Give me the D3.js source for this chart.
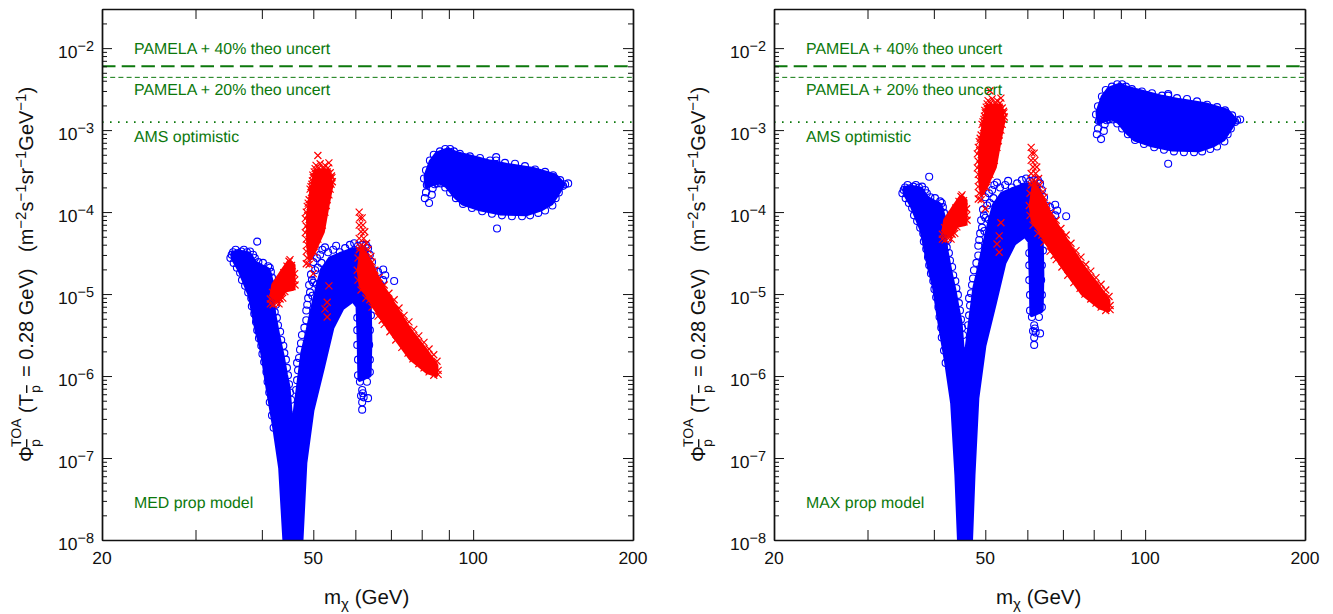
<!DOCTYPE html>
<html>
<head>
<meta charset="utf-8">
<script src="https://cdn.jsdelivr.net/npm/d3@7"></script>
<style>
  html, body { margin: 0; background: #fff; }
  text { font-family: "Liberation Sans", Arial, sans-serif; text-rendering: geometricPrecision; }
</style>
</head>
<body>
<svg id="chart" width="1333" height="614"></svg>
<script>
// every point below is [mass in GeV, log10 of the flux]

const massTicks = [30, 40, 50, 60, 70, 80, 90, 100];
const massLabels = [20, 50, 100, 200];
const fluxExponents = [-2, -3, -4, -5, -6, -7, -8];
const limitFlux = [6.0e-3, 4.4e-3, 1.25e-3];
const limitNames = ["PAMELA + 40% theo uncert", "PAMELA + 20% theo uncert", "AMS optimistic"];

// ---- MED panel
// the overlapping markers merge into solid regions, these are their outlines
const blueCoreMed = [
  [[35.3,-4.50],[36.4,-4.49],[37.8,-4.51],[38.8,-4.62],[41.1,-4.71],[41.6,-4.83],[42.1,-5.24],[42.9,-5.52],[43.7,-5.76],[44.3,-5.98],[44.8,-6.13],[45.2,-6.44],[45.7,-6.70],[46.7,-6.22],[47.8,-5.71],[48.9,-5.44],[49.9,-5.17],[51.0,-4.91],[52.0,-4.71],[53.8,-4.57],[56.1,-4.52],[59.4,-4.46],[62.5,-4.46],[63.7,-4.61],[63.7,-5.07],[63.9,-5.56],[63.7,-5.99],[61.2,-6.04],[61.0,-5.56],[60.7,-5.15],[59.4,-5.07],[56.6,-5.17],[54.2,-5.41],[52.0,-5.90],[49.7,-6.42],[48.2,-7.06],[47.4,-8.0],[47.2,-8.37],[44.3,-8.37],[44.2,-8.0],[43.4,-7.12],[42.3,-6.63],[41.1,-6.15],[40.1,-5.70],[39.2,-5.45],[38.0,-5.01],[36.4,-4.71],[35.3,-4.56]],
  [[81.5,-3.56],[83.3,-3.39],[85.5,-3.29],[89.7,-3.24],[92.4,-3.28],[101.6,-3.35],[107.6,-3.39],[115.8,-3.43],[129.7,-3.48],[142.7,-3.56],[147.7,-3.66],[144.5,-3.76],[140.2,-3.89],[134.3,-3.96],[126.1,-4.02],[112.3,-4.01],[103,-3.96],[95.7,-3.89],[92.4,-3.80],[89.3,-3.68],[86.6,-3.63],[83.3,-3.66],[81.8,-3.68]]
];
const blueMed = [
  [35.3,-4.49],[35.7,-4.46],[35.1,-4.52],[36.1,-4.50],[36.6,-4.48],[37.0,-4.46],[37.5,-4.49],[38.0,-4.48],[37.8,-4.55],[38.5,-4.52],[38.8,-4.56],[39.4,-4.61],[40.2,-4.62],[41.1,-4.66],[40.6,-4.71],[41.4,-4.68],[41.1,-4.77],[41.6,-4.73],[41.8,-4.80],[41.9,-4.89],[42.1,-4.98],[41.9,-5.07],[42.5,-5.13],[42.3,-5.22],[42.7,-5.29],[42.9,-5.38],[43.3,-5.46],[43.5,-5.56],[43.9,-5.63],[44.1,-5.72],[44.4,-5.80],[44.6,-5.90],[44.8,-5.99],[45.0,-6.10],[45.2,-6.20],[45.4,-6.29],
  [34.9,-4.56],[35.4,-4.62],[35.9,-4.68],[36.4,-4.74],[36.7,-4.83],[37.2,-4.90],[37.7,-4.98],[38.2,-5.05],[38.3,-5.15],[38.7,-5.24],[39.0,-5.34],[39.2,-5.44],[39.5,-5.54],[39.9,-5.63],[40.1,-5.73],[40.4,-5.83],[40.8,-5.95],[41.0,-6.07],[41.3,-6.20],[41.4,-6.32],[41.8,-6.48],[42.1,-6.63],
  [46.4,-6.17],[46.6,-6.05],[46.8,-5.93],[46.6,-5.84],[47.0,-5.78],[47.2,-5.68],[47.4,-5.60],[47.6,-5.50],[48.1,-5.41],[48.5,-5.32],[48.5,-5.20],[48.7,-5.13],[48.9,-5.05],[49.3,-4.98],[49.1,-4.89],[49.7,-4.83],[49.5,-4.76],[50.4,-4.71],[50.0,-4.61],[50.8,-4.56],[51.5,-4.52],[52.0,-4.46],[52.6,-4.43],[53.3,-4.49],[54.5,-4.46],[55.2,-4.41],[56.1,-4.49],[57.4,-4.44],[58.6,-4.40],[59.7,-4.38],[60.7,-4.41],[61.8,-4.40],[62.8,-4.40],[63.4,-4.44],[63.9,-4.52],[64.5,-4.61],[65.0,-4.71],[66.2,-4.73],[67.7,-4.70],[68.3,-4.77],[67.7,-4.83],[66.8,-4.88],[71.0,-4.84],
  [50.0,-4.86],[51.0,-4.68],[51.8,-4.62],[49.8,-5.02],[50.8,-4.88],
  [63.9,-5.07],[64.2,-5.26],[63.9,-5.44],[63.7,-5.62],[63.9,-5.80],[63.9,-5.95],[63.1,-6.07],[61.2,-6.07],[60.7,-5.99],[60.7,-5.80],[60.5,-5.62],[60.5,-5.44],[60.5,-5.29],
  [61.8,-6.17],[62.0,-6.21],[61.5,-6.24],[62.2,-6.26],[61.8,-6.32],[63.4,-6.27],[61.8,-6.41],[39.2,-4.36],
  [81.1,-3.83],[82.6,-3.89],[81.5,-3.76],[81.8,-3.67],[80.8,-3.59],[83.3,-3.62],[85.5,-3.65],
  [81.5,-3.49],[82.9,-3.37],[84.3,-3.30],[86.6,-3.26],[88.6,-3.23],[90.5,-3.23],[92,-3.26],[94.4,-3.29],[98.6,-3.32],[103,-3.34],[107.6,-3.37],[110.5,-3.33],[110.5,-3.37],[114.8,-3.40],[119.9,-3.41],[125.2,-3.44],[130.8,-3.48],[136.6,-3.51],[141.4,-3.55],[145.8,-3.61],[149,-3.66],[151,-3.65],[147.7,-3.68],[145,-3.76],[143,-3.83],[141,-3.92],[136.6,-3.98],[132.6,-4.01],[128,-4.04],[123.6,-4.05],[118.3,-4.05],[113.3,-4.04],[108.5,-4.02],[104,-3.99],[99.5,-3.95],[95.7,-3.90],[92.8,-3.83],[90.5,-3.76],[88.6,-3.70],[87,-3.65],[84.6,-3.66],[83.9,-3.71],[83.6,-3.79],[110.9,-4.20]
];
const redCoreMed = [
  [[61.8,-4.46],[63.9,-4.61],[66.2,-4.83],[69.1,-5.02],[72.2,-5.22],[76.3,-5.46],[81.1,-5.68],[85.1,-5.87],[85.1,-5.98],[82.2,-5.95],[76.3,-5.78],[70.0,-5.45],[66.8,-5.26],[63.4,-5.02],[61.5,-4.89],[61.0,-4.71]],
  [[50.6,-3.50],[53.3,-3.50],[54.0,-3.67],[53.1,-3.91],[52.0,-4.24],[50.2,-4.46],[49.3,-4.56],[49.0,-4.40],[49.0,-4.04],[49.7,-3.73]],
  [[41.8,-5.02],[42.1,-4.89],[43.7,-4.73],[45.0,-4.61],[45.8,-4.65],[45.8,-4.93],[44.2,-4.95],[42.9,-5.07]]
];
const redMed = [
  [51.0,-3.31],[50.6,-3.43],[51.5,-3.41],[52.6,-3.43],[53.5,-3.40],[50.4,-3.47],[51.2,-3.46],[52.2,-3.47],[53.3,-3.46],
  [50.2,-3.51],[51.0,-3.52],[52.0,-3.50],[53.1,-3.51],[53.8,-3.52],[49.9,-3.55],[51.3,-3.56],[52.4,-3.55],[53.3,-3.55],[54.1,-3.56],
  [50.0,-3.58],[50.8,-3.59],[51.7,-3.58],[52.6,-3.59],[53.5,-3.60],[54.2,-3.58],[49.8,-3.62],[50.9,-3.63],[52.1,-3.62],[53.0,-3.63],[54.3,-3.63],
  [49.7,-3.66],[50.6,-3.66],[51.5,-3.67],[52.4,-3.66],[53.3,-3.67],[54.0,-3.66],[49.5,-3.69],[50.8,-3.70],[52.0,-3.69],[53.2,-3.70],
  [49.3,-3.72],[50.2,-3.73],[51.2,-3.72],[52.2,-3.73],[53.1,-3.74],[53.8,-3.72],[49.6,-3.76],[50.6,-3.77],[51.6,-3.76],[52.7,-3.77],
  [50.0,-3.79],[50.8,-3.80],[51.7,-3.79],[52.6,-3.80],[53.5,-3.79],[49.1,-3.85],[49.7,-3.86],[50.6,-3.85],[51.5,-3.84],[52.4,-3.86],[53.1,-3.85],
  [48.9,-3.89],[50.1,-3.90],[51.1,-3.89],[52.0,-3.90],[48.7,-3.93],[49.5,-3.94],[50.4,-3.92],[51.2,-3.93],[52.2,-3.94],[52.9,-3.92],
  [48.5,-4.00],[49.3,-4.01],[50.2,-4.00],[51.0,-3.99],[52.0,-4.01],[52.6,-4.00],[48.8,-4.04],[49.9,-4.05],[51.2,-4.04],[48.3,-4.08],[49.1,-4.09],[50.0,-4.07],[50.8,-4.08],[51.7,-4.09],
  [48.5,-4.17],[49.3,-4.16],[50.2,-4.18],[51.0,-4.17],[52.0,-4.16],[48.9,-4.21],[50.0,-4.21],[48.3,-4.25],[49.1,-4.26],[50.0,-4.25],[50.8,-4.24],
  [48.5,-4.33],[49.3,-4.32],[50.2,-4.34],[51.0,-4.33],[48.7,-4.40],[49.5,-4.41],[50.4,-4.39],[48.5,-4.48],[49.3,-4.47],[50.2,-4.49],[48.7,-4.56],[49.5,-4.55],[48.5,-4.63],[49.1,-4.64],[50.0,-4.75],
  [45.2,-4.58],[45.0,-4.60],[44.6,-4.66],[45.0,-4.67],[45.5,-4.65],[44.0,-4.74],[44.6,-4.73],[45.2,-4.75],[45.6,-4.73],[46.1,-4.75],[43.3,-4.82],[43.9,-4.81],[44.5,-4.83],[45.1,-4.82],[45.6,-4.81],[46.1,-4.83],
  [42.7,-4.90],[43.3,-4.89],[43.9,-4.91],[44.5,-4.90],[45.0,-4.89],[45.6,-4.91],[46.2,-4.89],[41.9,-4.98],[42.5,-4.97],[43.1,-4.99],[43.7,-4.98],[44.2,-4.97],[41.5,-5.06],[42.1,-5.05],[42.7,-5.07],[43.3,-5.06],[43.8,-5.05],[41.5,-5.12],[42.0,-5.13],[42.6,-5.11],[43.1,-5.12],
  [61.0,-4.00],[61.2,-4.07],[61.8,-4.07],[61.0,-4.16],[62.0,-4.16],[61.5,-4.24],[62.5,-4.24],[61.0,-4.32],[62.2,-4.32],[63.0,-4.38],[61.2,-4.42],[62.0,-4.42],[63.4,-4.46],[64.2,-4.54],
  [64.5,-4.61],[65.3,-4.71],[66.5,-4.80],[68.0,-4.89],[69.4,-4.99],[71,-5.07],[72.5,-5.17],[74.1,-5.26],[75.7,-5.34],[77.3,-5.43],[79,-5.51],[80.8,-5.59],[82.6,-5.67],[84.3,-5.74],[85.5,-5.82],
  [85.9,-5.93],[85.9,-5.98],[84.3,-5.99],[82.6,-5.95],[80.8,-5.90],[79,-5.85],[77,-5.79],[75.4,-5.72],[73.4,-5.65],[71.5,-5.56],[69.7,-5.46],[68,-5.37],[66.2,-5.27],[64.5,-5.16],[62.8,-5.05],[61.5,-4.95],[60.7,-4.83],[60.5,-4.71],[60.7,-4.56],[61,-4.46],[67.4,-5.32],[63.9,-5.07],
  [53.5,-4.90],[53.1,-5.10],[52.6,-5.18],[53.1,-5.28]
];

// ---- MAX panel
const blueCoreMax = [
  [[35.3,-3.71],[36.4,-3.70],[37.8,-3.72],[38.8,-3.83],[41.1,-3.92],[41.6,-4.04],[42.1,-4.45],[42.9,-4.73],[43.7,-4.97],[44.3,-5.19],[44.8,-5.34],[45.2,-5.65],[45.7,-5.91],[46.7,-5.43],[47.8,-4.92],[48.9,-4.65],[49.9,-4.38],[51.0,-4.12],[52.0,-3.92],[53.8,-3.78],[56.1,-3.73],[59.4,-3.67],[62.5,-3.67],[63.7,-3.82],[63.7,-4.28],[63.9,-4.77],[63.7,-5.20],[61.2,-5.25],[61.0,-4.77],[60.7,-4.36],[59.4,-4.28],[56.6,-4.38],[54.2,-4.62],[52.0,-5.11],[49.7,-5.63],[48.2,-6.27],[47.4,-7.21],[46.9,-8.0],[46.8,-8.37],[44.6,-8.37],[44.7,-8.0],[44.2,-7.21],[43.4,-6.33],[42.3,-5.84],[41.1,-5.36],[40.1,-4.91],[39.2,-4.66],[38.0,-4.22],[36.4,-3.92],[35.3,-3.77]],
  [[81.5,-2.78],[83.3,-2.60],[85.5,-2.50],[89.7,-2.45],[92.4,-2.49],[101.6,-2.56],[107.6,-2.60],[115.8,-2.64],[129.7,-2.69],[142.7,-2.77],[147.7,-2.88],[144.5,-2.98],[140.2,-3.11],[134.3,-3.18],[126.1,-3.24],[112.3,-3.23],[103,-3.18],[95.7,-3.11],[92.4,-3.02],[89.3,-2.90],[86.6,-2.85],[83.3,-2.88],[81.8,-2.90]]
];
const blueMax = [
  [35.3,-3.70],[35.7,-3.67],[35.1,-3.73],[36.1,-3.71],[36.6,-3.69],[37.0,-3.67],[37.5,-3.70],[38.0,-3.69],[37.8,-3.76],[38.5,-3.73],[38.8,-3.77],[39.4,-3.82],[40.2,-3.83],[41.1,-3.87],[40.6,-3.92],[41.4,-3.89],[41.1,-3.98],[41.6,-3.94],[41.8,-4.01],[41.9,-4.10],[42.1,-4.19],[41.9,-4.28],[42.5,-4.34],[42.3,-4.43],[42.7,-4.50],[42.9,-4.59],[43.3,-4.67],[43.5,-4.77],[43.9,-4.84],[44.1,-4.93],[44.4,-5.01],[44.6,-5.11],[44.8,-5.20],[45.0,-5.31],[45.2,-5.41],[45.4,-5.50],
  [34.9,-3.77],[35.4,-3.83],[35.9,-3.89],[36.4,-3.95],[36.7,-4.04],[37.2,-4.11],[37.7,-4.19],[38.2,-4.26],[38.3,-4.36],[38.7,-4.45],[39.0,-4.55],[39.2,-4.65],[39.5,-4.75],[39.9,-4.84],[40.1,-4.94],[40.4,-5.04],[40.8,-5.16],[41.0,-5.28],[41.3,-5.41],[41.4,-5.53],[41.8,-5.69],[42.1,-5.84],
  [46.4,-5.38],[46.6,-5.26],[46.8,-5.14],[46.6,-5.05],[47.0,-4.99],[47.2,-4.89],[47.4,-4.81],[47.6,-4.71],[48.1,-4.62],[48.5,-4.53],[48.5,-4.41],[48.7,-4.34],[48.9,-4.26],[49.3,-4.19],[49.1,-4.10],[49.7,-4.04],[49.5,-3.97],[50.4,-3.92],[50.0,-3.82],[50.8,-3.77],[51.5,-3.73],[52.0,-3.67],[52.6,-3.64],[53.3,-3.70],[54.5,-3.67],[55.2,-3.62],[56.1,-3.70],[57.4,-3.65],[58.6,-3.61],[59.7,-3.59],[60.7,-3.62],[61.8,-3.61],[62.8,-3.61],[63.4,-3.65],[63.9,-3.73],[64.5,-3.82],[65.0,-3.92],[66.2,-3.94],[67.7,-3.91],[68.3,-3.98],[67.7,-4.04],[66.8,-4.09],[71.0,-4.05],
  [50.0,-4.07],[51.0,-3.89],[51.8,-3.83],[49.8,-4.23],[50.8,-4.09],
  [63.9,-4.28],[64.2,-4.47],[63.9,-4.65],[63.7,-4.83],[63.9,-5.01],[63.9,-5.16],[63.1,-5.28],[61.2,-5.28],[60.7,-5.20],[60.7,-5.01],[60.5,-4.83],[60.5,-4.65],[60.5,-4.50],
  [61.8,-5.38],[62.0,-5.42],[61.5,-5.45],[62.2,-5.47],[61.8,-5.53],[63.4,-5.48],[61.8,-5.62],[39.2,-3.57],
  [81.1,-3.05],[82.6,-3.11],[81.5,-2.98],[81.8,-2.89],[80.8,-2.81],[83.3,-2.84],[85.5,-2.87],
  [81.5,-2.71],[82.9,-2.59],[84.3,-2.51],[86.6,-2.47],[88.6,-2.44],[90.5,-2.44],[92,-2.47],[94.4,-2.50],[98.6,-2.53],[103,-2.55],[107.6,-2.58],[110.5,-2.56],[110.5,-2.58],[114.8,-2.61],[119.9,-2.62],[125.2,-2.65],[130.8,-2.69],[136.6,-2.72],[141.4,-2.76],[145.8,-2.82],[149,-2.88],[151,-2.87],[147.7,-2.90],[145,-2.98],[143,-3.05],[141,-3.14],[136.6,-3.20],[132.6,-3.23],[128,-3.26],[123.6,-3.27],[118.3,-3.27],[113.3,-3.26],[108.5,-3.24],[104,-3.21],[99.5,-3.17],[95.7,-3.12],[92.8,-3.05],[90.5,-2.98],[88.6,-2.92],[87,-2.87],[84.6,-2.88],[83.9,-2.93],[83.6,-3.01],[110.5,-3.41]
];
const redCoreMax = [
  [[61.8,-3.67],[63.9,-3.82],[66.2,-4.04],[69.1,-4.23],[72.2,-4.43],[76.3,-4.67],[81.1,-4.89],[85.1,-5.08],[85.1,-5.19],[82.2,-5.16],[76.3,-4.99],[70.0,-4.66],[66.8,-4.47],[63.4,-4.23],[61.5,-4.10],[61.0,-3.92]],
  [[50.6,-2.71],[53.3,-2.71],[54.0,-2.88],[53.1,-3.12],[52.0,-3.45],[50.2,-3.67],[49.3,-3.77],[49.0,-3.61],[49.0,-3.25],[49.7,-2.94]],
  [[41.8,-4.23],[42.1,-4.10],[43.7,-3.94],[45.0,-3.82],[45.8,-3.86],[45.8,-4.14],[44.2,-4.16],[42.9,-4.28]]
];
const redMax = [
  [51.0,-2.52],[50.6,-2.64],[51.5,-2.62],[52.6,-2.64],[53.5,-2.61],[50.4,-2.68],[51.2,-2.67],[52.2,-2.68],[53.3,-2.67],
  [50.2,-2.72],[51.0,-2.73],[52.0,-2.71],[53.1,-2.72],[53.8,-2.73],[49.9,-2.76],[51.3,-2.77],[52.4,-2.76],[53.3,-2.76],[54.1,-2.77],
  [50.0,-2.79],[50.8,-2.80],[51.7,-2.79],[52.6,-2.80],[53.5,-2.81],[54.2,-2.79],[49.8,-2.83],[50.9,-2.84],[52.1,-2.83],[53.0,-2.84],[54.3,-2.84],
  [49.7,-2.87],[50.6,-2.87],[51.5,-2.88],[52.4,-2.87],[53.3,-2.88],[54.0,-2.87],[49.5,-2.90],[50.8,-2.91],[52.0,-2.90],[53.2,-2.91],
  [49.3,-2.93],[50.2,-2.94],[51.2,-2.93],[52.2,-2.94],[53.1,-2.95],[53.8,-2.93],[49.6,-2.97],[50.6,-2.98],[51.6,-2.97],[52.7,-2.98],
  [50.0,-3.00],[50.8,-3.01],[51.7,-3.00],[52.6,-3.01],[53.5,-3.00],[49.1,-3.06],[49.7,-3.07],[50.6,-3.06],[51.5,-3.05],[52.4,-3.07],[53.1,-3.06],
  [48.9,-3.10],[50.1,-3.11],[51.1,-3.10],[52.0,-3.11],[48.7,-3.14],[49.5,-3.15],[50.4,-3.13],[51.2,-3.14],[52.2,-3.15],[52.9,-3.13],
  [48.5,-3.21],[49.3,-3.22],[50.2,-3.21],[51.0,-3.20],[52.0,-3.22],[52.6,-3.21],[48.8,-3.25],[49.9,-3.26],[51.2,-3.25],[48.3,-3.29],[49.1,-3.30],[50.0,-3.28],[50.8,-3.29],[51.7,-3.30],
  [48.5,-3.38],[49.3,-3.37],[50.2,-3.39],[51.0,-3.38],[52.0,-3.37],[48.9,-3.42],[50.0,-3.42],[48.3,-3.46],[49.1,-3.47],[50.0,-3.46],[50.8,-3.45],
  [48.5,-3.54],[49.3,-3.53],[50.2,-3.55],[51.0,-3.54],[48.7,-3.61],[49.5,-3.62],[50.4,-3.60],[48.5,-3.69],[49.3,-3.68],[50.2,-3.70],[48.7,-3.77],[49.5,-3.76],[48.5,-3.84],[49.1,-3.85],[50.0,-3.96],
  [45.2,-3.79],[45.0,-3.81],[44.6,-3.87],[45.0,-3.88],[45.5,-3.86],[44.0,-3.95],[44.6,-3.94],[45.2,-3.96],[45.6,-3.94],[46.1,-3.96],[43.3,-4.03],[43.9,-4.02],[44.5,-4.04],[45.1,-4.03],[45.6,-4.02],[46.1,-4.04],
  [42.7,-4.11],[43.3,-4.10],[43.9,-4.12],[44.5,-4.11],[45.0,-4.10],[45.6,-4.12],[46.2,-4.10],[41.9,-4.19],[42.5,-4.18],[43.1,-4.20],[43.7,-4.19],[44.2,-4.18],[41.5,-4.27],[42.1,-4.26],[42.7,-4.28],[43.3,-4.27],[43.8,-4.26],[41.5,-4.33],[42.0,-4.34],[42.6,-4.32],[43.1,-4.33],
  [61.0,-3.21],[61.2,-3.28],[61.8,-3.28],[61.0,-3.37],[62.0,-3.37],[61.5,-3.45],[62.5,-3.45],[61.0,-3.53],[62.2,-3.53],[63.0,-3.59],[61.2,-3.63],[62.0,-3.63],[63.4,-3.67],[64.2,-3.75],
  [64.5,-3.82],[65.3,-3.92],[66.5,-4.01],[68.0,-4.10],[69.4,-4.20],[71,-4.28],[72.5,-4.38],[74.1,-4.47],[75.7,-4.55],[77.3,-4.64],[79,-4.72],[80.8,-4.80],[82.6,-4.88],[84.3,-4.95],[85.5,-5.03],
  [85.9,-5.14],[85.9,-5.19],[84.3,-5.20],[82.6,-5.16],[80.8,-5.11],[79,-5.06],[77,-5.00],[75.4,-4.93],[73.4,-4.86],[71.5,-4.77],[69.7,-4.67],[68,-4.58],[66.2,-4.48],[64.5,-4.37],[62.8,-4.26],[61.5,-4.16],[60.7,-4.04],[60.5,-3.92],[60.7,-3.77],[61,-3.67],[67.4,-4.53],[63.9,-4.28],
  [53.5,-4.13],[53.1,-4.29],[52.6,-4.39],[53.1,-4.49]
];

const plotTop = 9;
const plotBottom = 540;
const panelWidth = 531;
const green = "#0c780c";
const blue = "#0000ff";
const red = "#ff0000";

const svg = d3.select("#chart");

function drawPanel(left, name, blueCore, bluePoints, redCore, redPoints) {
  const right = left + panelWidth;
  const x = d3.scaleLog().domain([20, 200]).range([left, right]);
  const y = d3.scaleLog().domain([1e-8, 0.03]).range([plotBottom, plotTop]);
  const g = svg.append("g");

  const clipId = "clip" + left;
  g.append("clipPath").attr("id", clipId).append("rect")
    .attr("x", left).attr("y", plotTop)
    .attr("width", panelWidth).attr("height", plotBottom - plotTop);

  const outline = d3.line()
    .x((d) => x(d[0]))
    .y((d) => y(Math.pow(10, d[1])))
    .curve(d3.curveLinearClosed);

  const marks = g.append("g").attr("clip-path", `url(#${clipId})`);

  // limit lines
  const dashes = ["13.5 6.2", "5 3.2", "1.6 6.4"];
  const lineWidths = [2.1, 1, 1.6];
  limitFlux.forEach((flux, i) => {
    marks.append("line")
      .attr("x1", left).attr("x2", right)
      .attr("y1", y(flux)).attr("y2", y(flux))
      .attr("stroke", green)
      .attr("stroke-width", lineWidths[i])
      .attr("stroke-dasharray", dashes[i]);
  });

  marks.selectAll("path.blue-core").data(blueCore).enter()
    .append("path").attr("class", "blue-core")
    .attr("d", outline).attr("fill", blue)
    .attr("stroke", blue).attr("stroke-width", 5).attr("stroke-linejoin", "round");

  marks.selectAll("circle").data(bluePoints).enter()
    .append("circle")
    .attr("cx", (d) => x(d[0]))
    .attr("cy", (d) => y(Math.pow(10, d[1])))
    .attr("r", 3.5)
    .attr("fill", "none")
    .attr("stroke", blue)
    .attr("stroke-width", 1.1);

  marks.selectAll("path.red-core").data(redCore).enter()
    .append("path").attr("class", "red-core")
    .attr("d", outline).attr("fill", red)
    .attr("stroke", red).attr("stroke-width", 5).attr("stroke-linejoin", "round");

  marks.selectAll("path.cross").data(redPoints).enter()
    .append("path").attr("class", "cross")
    .attr("d", (d) => {
      const cx = x(d[0]);
      const cy = y(Math.pow(10, d[1]));
      return `M${cx - 3.5},${cy - 3.5}L${cx + 3.5},${cy + 3.5}M${cx - 3.5},${cy + 3.5}L${cx + 3.5},${cy - 3.5}`;
    })
    .attr("fill", "none")
    .attr("stroke", red)
    .attr("stroke-width", 1.2);

  // axes, ticks point inwards on all four sides
  const yMajor = fluxExponents.map((e) => Math.pow(10, e));
  const yMinor = [2e-2, 3e-2];
  fluxExponents.slice(1).forEach((e) => {
    d3.range(2, 10).forEach((k) => yMinor.push(k * Math.pow(10, e)));
  });

  const axes = [
    g.append("g").attr("transform", `translate(0,${plotBottom})`).call(d3.axisBottom(x).tickValues(massTicks).tickFormat("").tickSizeInner(-10).tickSizeOuter(0)),
    g.append("g").attr("transform", `translate(0,${plotTop})`).call(d3.axisTop(x).tickValues(massTicks).tickFormat("").tickSizeInner(-10).tickSizeOuter(0)),
    g.append("g").attr("transform", `translate(${left},0)`).call(d3.axisLeft(y).tickValues(yMajor).tickFormat("").tickSizeInner(-10).tickSizeOuter(0)),
    g.append("g").attr("transform", `translate(${left},0)`).call(d3.axisLeft(y).tickValues(yMinor).tickFormat("").tickSizeInner(-5).tickSizeOuter(0)),
    g.append("g").attr("transform", `translate(${right},0)`).call(d3.axisRight(y).tickValues(yMajor).tickFormat("").tickSizeInner(-10).tickSizeOuter(0)),
    g.append("g").attr("transform", `translate(${right},0)`).call(d3.axisRight(y).tickValues(yMinor).tickFormat("").tickSizeInner(-5).tickSizeOuter(0))
  ];
  axes.forEach((a) => {
    a.select(".domain").attr("stroke-width", 1.4).attr("stroke", "#111");
    a.selectAll(".tick line").attr("stroke-width", 1).attr("stroke", "#111");
  });

  // tick labels
  g.selectAll("text.mass").data(massLabels).enter()
    .append("text").attr("class", "mass")
    .attr("x", (d) => x(d)).attr("y", 564)
    .attr("text-anchor", "middle")
    .attr("font-size", 17.5).attr("fill", "#111")
    .text((d) => d);

  fluxExponents.forEach((e) => {
    const t = g.append("text")
      .attr("x", left - 44)
      .attr("y", y(Math.pow(10, e)) + 9.5)
      .attr("font-size", 17.5).attr("fill", "#111");
    t.append("tspan").text("10");
    t.append("tspan").attr("font-size", 14.5).attr("dy", -7).text("\u2212" + Math.abs(e));
  });

  // y title is put together piece by piece, all rotated
  const base = left - 69;
  const piece = (py, dx, size, str, overline) => {
    const t = g.append("text")
      .attr("transform", `translate(${base + dx},${py}) rotate(-90)`)
      .attr("font-size", size).attr("fill", "#111").text(str);
    if (overline) t.style("text-decoration", "overline");
    return t;
  };
  piece(462, 0, 20, "\u03a6");
  piece(447, -12, 14, "TOA");
  piece(447, 7, 14, "p", true);
  piece(413, 0, 20, "(T");
  piece(393, 7, 14, "p", true);
  piece(377, 0, 20, "= 0.28 GeV)");
  const unit = piece(252, 0, 20, "(m");
  [["\u22122", "s"], ["\u22121", "sr"], ["\u22121", "GeV"], ["\u22121", ")"]].forEach((pair) => {
    unit.append("tspan").attr("font-size", 15).attr("dy", -7).text(pair[0]);
    unit.append("tspan").attr("dy", 7).text(pair[1]);
  });

  // x title
  const xTitle = g.append("text")
    .attr("x", left + 222).attr("y", 604)
    .attr("font-size", 20.5).attr("fill", "#111");
  xTitle.append("tspan").text("m");
  xTitle.append("tspan").attr("font-size", 15).attr("dy", 5).text("\u03c7");
  xTitle.append("tspan").attr("dy", -5).text(" (GeV)");

  // green notes
  const noteBase = [54, 95, 142];
  limitNames.forEach((label, i) => {
    g.append("text").attr("x", left + 32).attr("y", noteBase[i])
      .attr("font-size", 15.9).attr("fill", green).text(label);
  });
  g.append("text").attr("x", left + 32).attr("y", 507.5)
    .attr("font-size", 15.9).attr("fill", green).text(name);
}

drawPanel(102, "MED prop model", blueCoreMed, blueMed, redCoreMed, redMed);
drawPanel(774, "MAX prop model", blueCoreMax, blueMax, redCoreMax, redMax);
</script>
</body>
</html>
